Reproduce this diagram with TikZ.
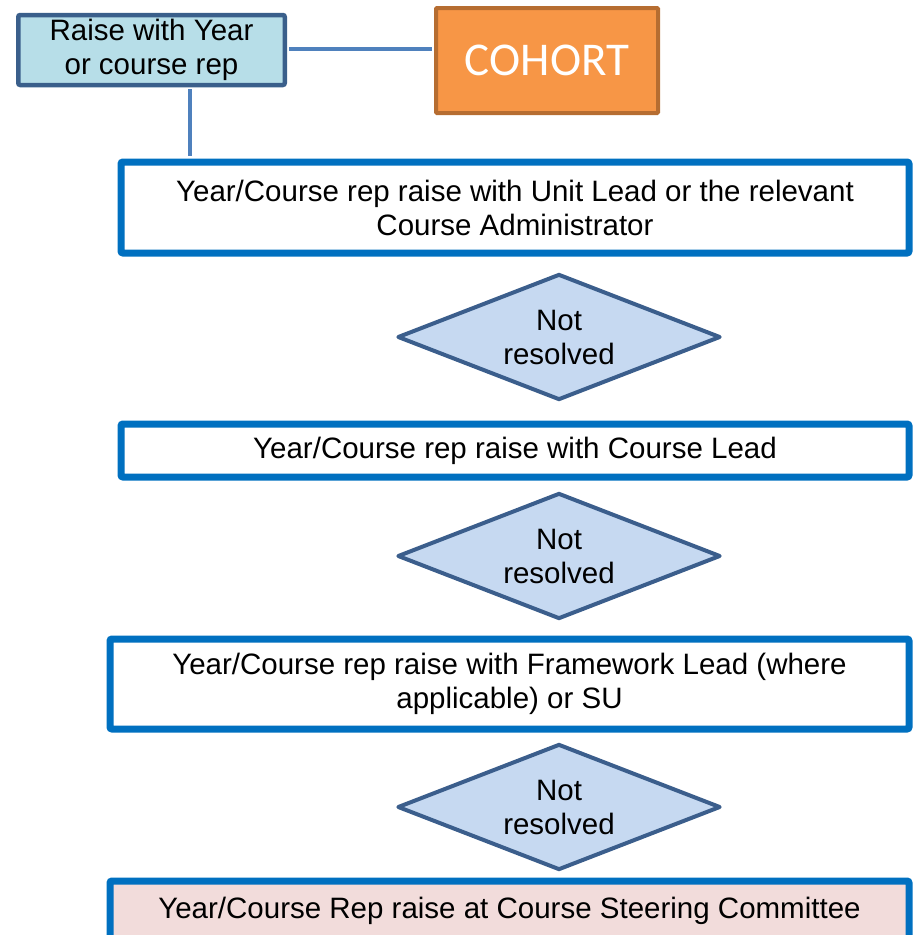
\documentclass[tikz,border=0pt]{standalone}
\usepackage{fontspec}
\setmainfont{Liberation Sans}
\newfontfamily\cohortfont{Carlito}
\usetikzlibrary{shapes.geometric}
\definecolor{stageblue}{HTML}{0070C0}
\definecolor{repframe}{HTML}{3A5F8B}
\definecolor{repfill}{HTML}{B7DEE8}
\definecolor{linkblue}{HTML}{4F81BD}
\definecolor{cohortfill}{HTML}{F79646}
\definecolor{cohortframe}{HTML}{B66D31}
\definecolor{checkframe}{HTML}{3B5E8C}
\definecolor{checkfill}{HTML}{C6D9F1}
\definecolor{committeefill}{HTML}{F2DCDB}

\begin{document}
\begin{tikzpicture}[x=1pt,y=-1pt,
    stage/.style={draw=stageblue,line width=7pt,rounded corners=2pt,fill=white,inner sep=0pt,align=center,font=\fontsize{29.5}{34}\selectfont},
    check/.style={diamond,draw=checkframe,line width=4pt,line join=round,fill=checkfill,aspect=2.56,inner sep=0pt,minimum width=323pt,minimum height=126pt,align=center,font=\fontsize{29.5}{34}\selectfont},
    link/.style={draw=linkblue,line width=3.5pt}]
    \clip (0,0) rectangle (914,935);
    \node [draw=repframe,line width=4.5pt,rounded corners=2pt,fill=repfill,inner sep=0pt,minimum width=266.5pt,minimum height=70pt,align=center,font=\fontsize{29.5}{34}\selectfont] (rep) at (151.5,50) {Raise with Year\\or course rep};
    \node [draw=cohortframe,line width=4pt,rounded corners=1pt,fill=cohortfill,inner sep=0pt,minimum width=222pt,minimum height=105pt,text=white,font=\cohortfont\fontsize{47}{50}\selectfont] (cohort) at (547,60.5) {COHORT};
    \node [stage,minimum width=788pt,minimum height=91pt] (unit) at (515,207.5) {Year/Course rep raise with Unit Lead or the relevant\\Course Administrator};
    \node [check] (check1) at (559,337) {Not\\resolved};
    \node [stage,minimum width=788pt,minimum height=53pt] (courselead) at (515,450.5) {Year/Course rep raise with Course Lead};
    \node [check] (check2) at (559,556) {Not\\resolved};
    \node [stage,minimum width=799pt,minimum height=90pt] (framework) at (509.5,684) {Year/Course rep raise with Framework Lead (where\\applicable) or SU};
    \node [check] (check3) at (559,807) {Not\\resolved};
    \node [stage,fill=committeefill,minimum width=799pt,minimum height=60pt] (committee) at (509.5,911) {Year/Course Rep raise at Course Steering Committee};
    \draw [link,shorten <=2pt,shorten >=2pt] (rep.east |- 0,49) -- (cohort.west |- 0,49);
    \draw [link,shorten <=2pt,shorten >=3pt] ([xshift=38.5pt]rep.south) -- ([xshift=38.5pt]rep.south |- unit.north);
\end{tikzpicture}
\end{document}
